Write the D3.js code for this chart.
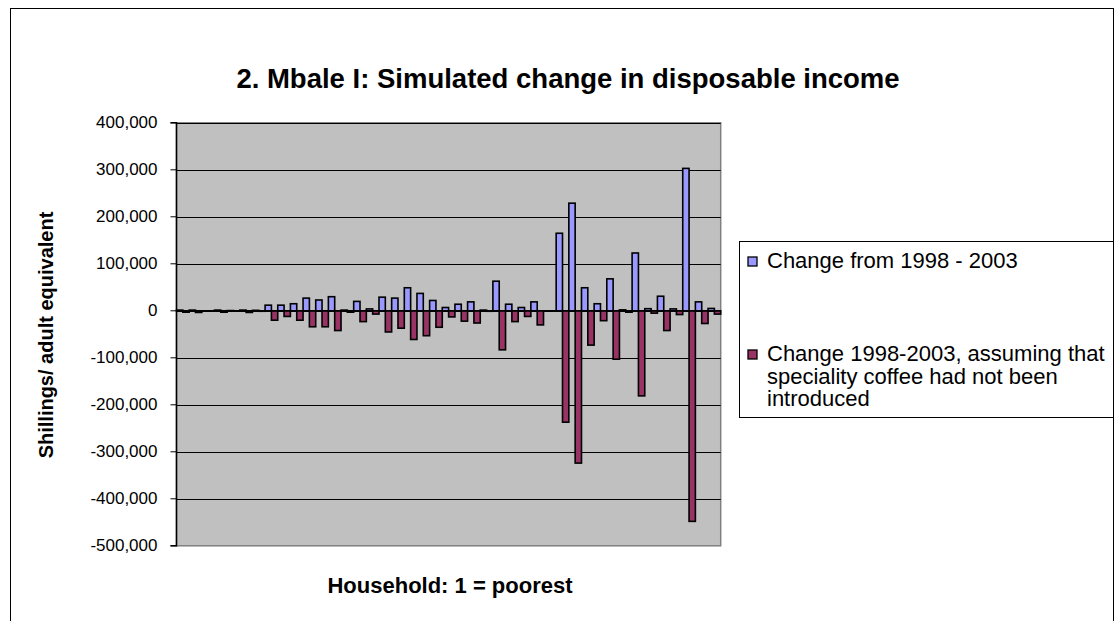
<!DOCTYPE html>
<html>
<head>
<meta charset="utf-8">
<script src="https://cdn.jsdelivr.net/npm/d3@7"></script>
<style>
  html, body { margin: 0; padding: 0; background: #fff; }
  svg { display: block; font-family: "Liberation Sans", Arial, sans-serif; }
</style>
</head>
<body>
<svg id="chart" width="1118" height="621"></svg>
<script>
// Households ordered from poorest (1) to richest (43)
const households = d3.range(1, 44).map(String);

// Simulated change in disposable income, shillings per adult equivalent
const changeActual = [
  1500, 1500, 0, 1500, 500, 1500, 1000, 12000, 12000, 15000,
  27000, 23000, 30000, 1500, 20000, 4000, 29000, 27000, 49000, 37000,
  22000, 7000, 14000, 19000, 1500, 63000, 14000, 7000, 19000, 0,
  165000, 229000, 49000, 15000, 68000, 2000, 123000, 4500, 31000, 4000,
  303000, 19000, 5000
];

// Same change, assuming speciality coffee had not been introduced
const changeNoSpeciality = [
  -3000, -3500, 0, -3000, -500, -3500, -1000, -20000, -12000, -20000,
  -34000, -34000, -42000, -3000, -23000, -7000, -45000, -37000, -61000, -53000,
  -35000, -13000, -22000, -26000, -1000, -83000, -23000, -12000, -30000, 0,
  -237000, -324000, -73000, -21000, -103000, -3000, -181000, -5000, -42000, -8000,
  -448000, -27000, -7000
];

const seriesNames = [
  "Change from 1998 - 2003",
  "Change 1998-2003, assuming that speciality coffee had not been introduced"
];
const legendLines = [
  ["Change from 1998 - 2003"],
  ["Change 1998-2003, assuming that", "speciality coffee had not been", "introduced"]
];
const seriesColors = ["#9999FF", "#993366"];

const yTicks = [400000, 300000, 200000, 100000, 0, -100000, -200000, -300000, -400000, -500000];

const titleText = "2. Mbale I: Simulated change in disposable income";
const yTitle = "Shillings/ adult equivalent";
const xTitle = "Household: 1 = poorest";

const svg = d3.select("#chart");

// Outer chart frame
svg.append("rect")
  .attr("x", 10.5).attr("y", 8.5)
  .attr("width", 1103).attr("height", 700)
  .attr("fill", "#fff").attr("stroke", "#000").attr("stroke-width", 1);

const plot = { left: 176.5, right: 720.7, top: 122.8, bottom: 545.8 };

const x = d3.scaleBand()
  .domain(households)
  .range([plot.left, plot.right])
  .paddingInner(0).paddingOuter(0);

const xSeries = d3.scaleBand()
  .domain([0, 1])
  .range([0, x.bandwidth()])
  .padding(0);

const y = d3.scaleLinear()
  .domain([-500000, 400000])
  .range([plot.bottom, plot.top]);

// Plot area background
svg.append("rect")
  .attr("x", plot.left).attr("y", plot.top)
  .attr("width", plot.right - plot.left).attr("height", plot.bottom - plot.top)
  .attr("fill", "#C0C0C0").attr("stroke", "#808080").attr("stroke-width", 1.5);

// Horizontal gridlines
svg.append("g").selectAll("line")
  .data(yTicks.filter(v => v !== -500000))
  .join("line")
  .attr("x1", plot.left).attr("x2", plot.right)
  .attr("y1", d => Math.round(y(d)) + 0.5).attr("y2", d => Math.round(y(d)) + 0.5)
  .attr("stroke", "#000").attr("stroke-width", 1);

// Value axis with outside tick marks
const fmt = d3.formatLocale({ decimal: ".", thousands: ",", grouping: [3], currency: ["", ""], minus: "-" }).format(",");
const yAxis = svg.append("g")
  .attr("transform", `translate(${plot.left},0)`)
  .call(d3.axisLeft(y).tickValues(yTicks).tickFormat(fmt).tickSize(6).tickPadding(13).offset(0));
yAxis.select(".domain").attr("stroke", "#000").attr("stroke-width", 1.5);
yAxis.selectAll(".tick line").attr("stroke", "#000").attr("stroke-width", 1);
yAxis.selectAll(".tick text")
  .attr("font-size", 17).attr("fill", "#000")
  .attr("font-family", "Liberation Sans, Arial, sans-serif");

// Bars
const series = [changeActual, changeNoSpeciality];
const barData = [];
series.forEach((vals, s) => vals.forEach((v, i) => barData.push({ s, h: households[i], v })));

svg.append("g").selectAll("rect")
  .data(barData)
  .join("rect")
  .attr("x", d => x(d.h) + xSeries(d.s))
  .attr("width", xSeries.bandwidth())
  .attr("y", d => y(Math.max(0, d.v)))
  .attr("height", d => Math.abs(y(d.v) - y(0)))
  .attr("fill", d => seriesColors[d.s])
  .attr("stroke", "#000").attr("stroke-width", 1.6);

// Category axis along zero
svg.append("line")
  .attr("x1", plot.left).attr("x2", plot.right)
  .attr("y1", y(0)).attr("y2", y(0))
  .attr("stroke", "#000").attr("stroke-width", 1.5);

// Title
svg.append("text")
  .attr("x", 568).attr("y", 88)
  .attr("text-anchor", "middle")
  .attr("font-size", 27.5).attr("font-weight", "bold")
  .text(titleText);

// Axis titles
svg.append("text")
  .attr("transform", "translate(53,335) rotate(-90)")
  .attr("text-anchor", "middle")
  .attr("font-size", 20).attr("font-weight", "bold")
  .text(yTitle);

svg.append("text")
  .attr("x", 450).attr("y", 593)
  .attr("text-anchor", "middle")
  .attr("font-size", 22).attr("font-weight", "bold")
  .text(xTitle);

// Legend
const legend = svg.append("g");
legend.append("rect")
  .attr("x", 739.5).attr("y", 241.5)
  .attr("width", 374).attr("height", 176)
  .attr("fill", "#fff").attr("stroke", "#000").attr("stroke-width", 1);

const legendBaselines = [268, 361];
legendLines.forEach((lines, s) => {
  const g = legend.append("g").attr("class", "entry").attr("data-name", seriesNames[s]);
  g.append("rect")
    .attr("x", 748).attr("y", legendBaselines[s] - 11)
    .attr("width", 9).attr("height", 9)
    .attr("fill", seriesColors[s]).attr("stroke", "#000").attr("stroke-width", 1.3);
  lines.forEach((t, j) => {
    g.append("text")
      .attr("x", 767).attr("y", legendBaselines[s] + j * 22.7)
      .attr("font-size", 22)
      .text(t);
  });
});
</script>
</body>
</html>
